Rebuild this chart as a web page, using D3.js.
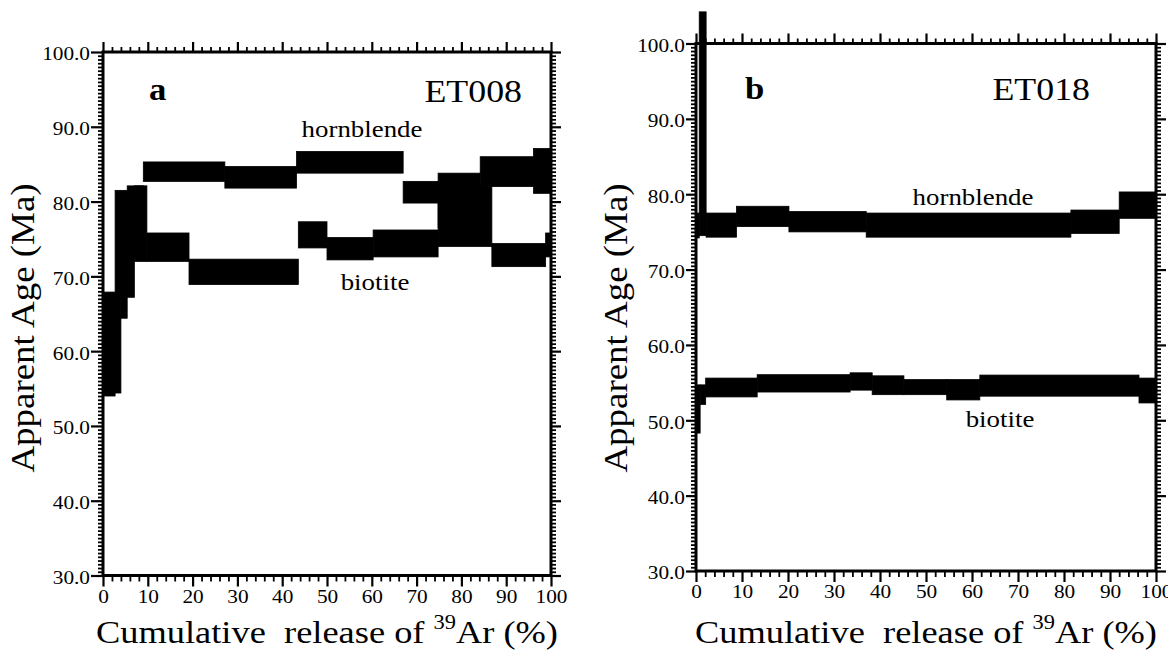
<!DOCTYPE html>
<html>
<head>
<meta charset="utf-8">
<script src="https://cdn.jsdelivr.net/npm/d3@7"></script>
<style>
  body { margin: 0; background: #fff; }
  svg { display: block; }
  text { font-family: "Liberation Serif", "Times New Roman", Times, serif; fill: #000; }
</style>
</head>
<body>
<script>
// Chart size
const width = 1168;
const height = 651;

// Age spectra: step boundaries (cumulative % 39Ar), apparent age (Ma), half-width of the error box (Ma)
const et008HbBounds = [0, 2.7, 7.0, 9.0, 27.2, 43.2, 67.0, 74.8, 84.2, 96.1, 100];
const et008HbAge    = [60.0, 74.35, 78.95, 84.0, 83.25, 85.25, 81.25, 80.15, 84.0, 84.1];
const et008HbErr    = [6.0, 7.15, 3.15, 1.3, 1.45, 1.45, 1.45, 3.65, 2.0, 3.0];

const et008BtBounds = [0, 4.0, 5.4, 9.8, 19.2, 43.6, 50.0, 60.3, 74.8, 86.8, 98.8, 100];
const et008BtAge    = [61.15, 66.15, 77.05, 73.9, 70.6, 75.55, 73.7, 74.4, 78.0, 72.85, 74.2];
const et008BtErr    = [6.75, 1.75, 5.05, 1.9, 1.7, 1.75, 1.5, 1.8, 4.0, 1.55, 1.6];

const et018HbBounds = [0, 0.7, 2.2, 8.8, 20.2, 37.0, 81.5, 92.0, 100];
const et018HbAge    = [75.85, 89.35, 75.9, 77.05, 76.35, 75.9, 76.35, 78.55];
const et018HbErr    = [1.65, 14.85, 1.6, 1.35, 1.35, 1.6, 1.55, 1.75];

const et018BtBounds = [0, 0.9, 2.1, 13.3, 33.5, 38.3, 45.2, 54.5, 61.7, 96.3, 100];
const et018BtAge    = [51.5, 53.4, 54.35, 54.9, 55.15, 54.65, 54.4, 54.05, 54.6, 53.95];
const et018BtErr    = [3.2, 1.3, 1.25, 1.15, 1.15, 1.25, 1.0, 1.35, 1.4, 1.65];

// Axis ticks
const xMajor = d3.range(0, 101, 10);
const xMinor = d3.range(0, 101, 2).filter(v => v % 10 !== 0);
const yMajor = d3.range(30, 101, 10);
const yMinor = d3.range(30, 100.01, 0.5).filter(v => v % 10 !== 0);

const STRETCH = 1.12; // the scanned lettering is a little wide

const svg = d3.select('body')
    .append('svg')
    .attr('width', width)
    .attr('height', height);

// text inside a group so it can be stretched horizontally
function label(x, y, str, size, anchor, opts = {}) {
    const g = svg.append('g')
        .attr('transform', `translate(${x},${y})` + (opts.rotate ? ` rotate(${opts.rotate})` : '') + ` scale(${STRETCH},1)`);
    const t = g.append('text')
        .attr('text-anchor', anchor)
        .style('font-size', size + 'px')
        .style('white-space', 'pre');
    if (opts.bold) t.style('font-weight', 'bold');
    return t.text(str);
}

function stretchTicks(sel) {
    sel.selectAll('text').each(function () {
        const w = this.getComputedTextLength();
        d3.select(this).attr('textLength', w * STRETCH).attr('lengthAdjust', 'spacingAndGlyphs');
    });
}

function drawPanel(p) {
    const x = d3.scaleLinear().domain([0, 100]).range([p.left, p.right]);
    const y = d3.scaleLinear().domain([30, 100]).range([p.bottom, p.top]);

    // age spectrum boxes
    p.series.forEach(s => {
        const rows = s.age.map((a, i) => ({
            x0: s.bounds[i], x1: s.bounds[i + 1], lo: a - s.err[i], hi: a + s.err[i]
        }));
        svg.append('g').selectAll('rect')
            .data(rows)
            .join('rect')
            .attr('x', d => x(d.x0))
            .attr('width', d => x(d.x1) - x(d.x0))
            .attr('y', d => y(d.hi))
            .attr('height', d => y(d.lo) - y(d.hi))
            .attr('fill', '#000')
            .attr('stroke', '#000')
            .attr('stroke-width', 0.8);
    });

    const tickAxis = (axis, tr, size, width, labels) => {
        const g = svg.append('g')
            .attr('transform', tr)
            .call(axis.tickSize(size).tickSizeOuter(0));
        g.select('.domain').remove();
        g.selectAll('line').attr('stroke', '#000').attr('stroke-width', width);
        if (!labels) g.selectAll('text').remove();
        return g;
    };

    // bottom
    tickAxis(d3.axisBottom(x).tickValues(xMinor), `translate(0,${p.bottom})`, 6, 1.8, false);
    const bx = tickAxis(d3.axisBottom(x).tickValues(xMajor).tickPadding(3).tickFormat(d3.format('d')),
        `translate(0,${p.bottom})`, 11, 2.2, true);
    bx.selectAll('text').style('font-size', '19px');
    stretchTicks(bx);
    // top
    tickAxis(d3.axisTop(x).tickValues(xMinor), `translate(0,${p.top})`, 5, 1.8, false);
    tickAxis(d3.axisTop(x).tickValues(xMajor), `translate(0,${p.top})`, 10, 2.2, false);
    // left
    tickAxis(d3.axisLeft(y).tickValues(yMinor), `translate(${p.left},0)`, 5, 1.8, false);
    const ly = tickAxis(d3.axisLeft(y).tickValues(yMajor).tickPadding(1).tickFormat(d3.format('.1f')),
        `translate(${p.left},0)`, p.majorLeft, 2.2, true);
    ly.selectAll('text').style('font-size', '19px').attr('dy', '0.42em');
    stretchTicks(ly);
    // right
    tickAxis(d3.axisRight(y).tickValues(yMinor), `translate(${p.right},0)`, 5, 1.8, false);
    tickAxis(d3.axisRight(y).tickValues(yMajor), `translate(${p.right},0)`, 10, 2.2, false);

    // frame
    svg.append('rect')
        .attr('x', p.left).attr('y', p.top)
        .attr('width', p.right - p.left).attr('height', p.bottom - p.top)
        .attr('fill', 'none').attr('stroke', '#000').attr('stroke-width', 3);

    // titles
    label(p.yTitleX, 328, 'Apparent Age (Ma)', 33, 'middle', { rotate: -90 });
    const xt = label((p.left + p.right) / 2, 643, 'Cumulative  release of ', 32.5, 'middle');
    xt.append('tspan').attr('dy', -14).style('font-size', '20px').text('39');
    xt.append('tspan').attr('dy', 14).text('Ar (%)');

    // annotations
    label(p.letter[0], p.letter[1], p.letter[2], 31, 'start', { bold: true });
    label(p.sample[0], p.sample[1], p.sample[2], 32, 'end');
    p.notes.forEach(n => label(n[0], n[1], n[2], 24, 'middle'));
}

drawPanel({
    left: 103, right: 551, top: 52, bottom: 575.5, majorLeft: 12, yTitleX: 34,
    series: [
        { bounds: et008HbBounds, age: et008HbAge, err: et008HbErr },
        { bounds: et008BtBounds, age: et008BtAge, err: et008BtErr }
    ],
    letter: [149, 100, 'a'],
    sample: [522, 101.5, 'ET008'],
    notes: [[362, 136.5, 'hornblende'], [375, 290, 'biotite']]
});

drawPanel({
    left: 696, right: 1156, top: 43.5, bottom: 571, majorLeft: 10, yTitleX: 627,
    series: [
        { bounds: et018HbBounds, age: et018HbAge, err: et018HbErr },
        { bounds: et018BtBounds, age: et018BtAge, err: et018BtErr }
    ],
    letter: [745, 98.5, 'b'],
    sample: [1090, 100, 'ET018'],
    notes: [[973, 205, 'hornblende'], [1000, 426.5, 'biotite']]
});
</script>
</body>
</html>
